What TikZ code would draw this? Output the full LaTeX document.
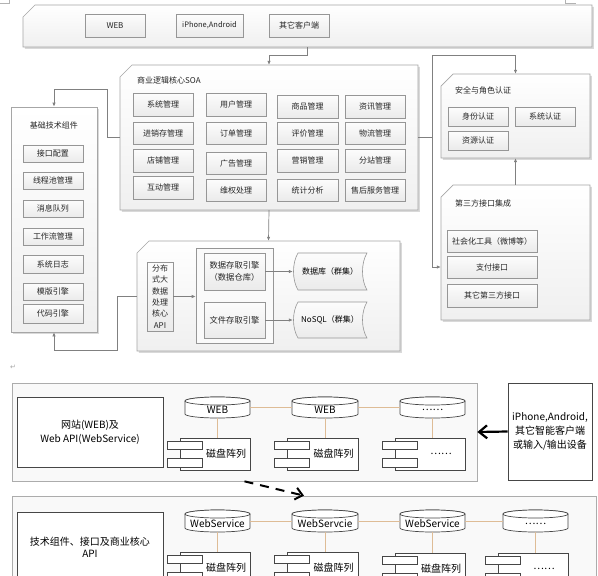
\documentclass[tikz,border=0pt]{standalone}
\usepackage{fontspec}
\setmainfont{Noto Sans CJK SC}
\newfontfamily\symf{DejaVu Sans}
\usetikzlibrary{arrows.meta}
\definecolor{lg}{RGB}{128,128,128}
\definecolor{bb}{RGB}{150,150,150}
\definecolor{tanl}{RGB}{222,188,150}
\definecolor{dk}{RGB}{70,70,70}
\tikzset{
  gbox/.style={draw=bb, line width=0.6pt, top color=gray!2, bottom color=gray!16, inner sep=0pt, align=center, font=\fontsize{8}{11}\selectfont, text=black!85},
  ibox/.style={draw=bb, line width=0.6pt, fill=gray!4, inner sep=0pt},
  contsty/.style={draw=gray!70, line width=0.7pt, top color=white, bottom color=gray!12},
  conn/.style={draw=lg, line width=0.7pt},
  arr/.style={-{Latex[length=4pt,width=3.4pt]}},
  ttl/.style={font=\fontsize{8}{10}\selectfont, inner sep=0pt, text=black!85},
  hid/.style={inner sep=0pt, draw=none},
  bigbox/.style={draw=gray!65, line width=0.7pt, fill=gray!5, inner sep=0pt},
  tbox/.style={draw=dk, line width=0.7pt, fill=white, inner sep=0pt, align=center, font=\fontsize{10}{14}\selectfont},
  cylline/.style={draw=dk, line width=0.7pt, fill=white},
  cyltext/.style={font=\fontsize{10}{12}\selectfont, inner sep=0pt},
  compbox/.style={draw=dk, line width=0.7pt, fill=white, inner sep=0pt},
  tanc/.style={draw=tanl, line width=1pt},
}
\newcommand\rbox[7]{\node[#1,minimum width={(#5)-(#3)},minimum height={(#6)-(#4)}] (#2) at ({((#3)+(#5))/2},{((#4)+(#6))/2}) {#7};}
\newcommand\chbox[6]{%
  \fill[gray!30] ({(#3)+1.8},{(#4)+13.8}) -- ({(#3)+13.8},{(#4)+1.8}) -- ({(#5)+1.8},{(#4)+1.8}) -- ({(#5)+1.8},{(#6)+1.8}) -- ({(#3)+1.8},{(#6)+1.8}) -- cycle;
  \path[#1] (#3,{(#4)+12}) -- ({(#3)+12},#4) -- (#5,#4) -- (#5,#6) -- (#3,#6) -- cycle;
  \node[hid,minimum width={(#5)-(#3)},minimum height={(#6)-(#4)}] (#2) at ({((#3)+(#5))/2},{((#4)+(#6))/2}) {};}
\newcommand\cyl[6]{%
  \pgfmathsetmacro\cw{((#4)-(#2))/2}%
  \pgfmathsetmacro\cm{((#2)+(#4))/2}%
  \pgfmathsetmacro\ct{(#3)+4}%
  \pgfmathsetmacro\cb{(#5)-4}%
  \path[cylline] (#2,\ct) -- (#2,\cb) arc[start angle=180,end angle=360,x radius=\cw pt,y radius=4pt] -- (#4,\ct) arc[start angle=0,end angle=180,x radius=\cw pt,y radius=4pt] -- cycle;
  \path[cylline] (\cm,\ct) ellipse[x radius=\cw pt,y radius=4pt];
  \node[hid,minimum width={(#4)-(#2)},minimum height={(#5)-(#3)}] (#1) at (\cm,{((#3)+(#5))/2}) {};
  \node[cyltext] at (\cm,{(\ct+(#5))/2+0.5}) {#6};}
\newcommand\comp[6]{%
  \rbox{compbox}{#1}{#2}{#3}{#4}{#5}{}
  \path[cylline] ({(#2)-13},{(#3)+3}) rectangle ({(#2)+22},{(#3)+11});
  \path[cylline] ({(#2)-13},{(#3)+20}) rectangle ({(#2)+22},{(#3)+29});
  \node[cyltext] at ({((#2)+22+(#4))/2},{((#3)+(#5))/2}) {#6};}
\newcommand\sdata[6]{%
  \path[draw=bb, line width=0.6pt, top color=gray!2, bottom color=gray!16] ({(#2)+5},#3) -- (#4,#3) .. controls ({(#4)-6},{(#3)+10}) and ({(#4)-6},{(#5)-10}) .. (#4,#5) -- ({(#2)+5},#5) .. controls ({(#2)-1},{(#5)-10}) and ({(#2)-1},{(#3)+10}) .. ({(#2)+5},#3) -- cycle;
  \node[hid,font=\fontsize{8}{10}\selectfont,minimum width={(#4)-(#2)},minimum height={(#5)-(#3)}] (#1) at ({((#2)+(#4))/2},{((#3)+(#5))/2}) {#6};}

\begin{document}
\begin{tikzpicture}[x=1pt,y=-1pt]
\useasboundingbox (0,0) rectangle (598,576);
\clip (0,0) rectangle (598,576);
\fill[white] (0,0) rectangle (598,576);
% corner marks
\draw[gray!60,line width=0.5pt] (0,3) -- (9,3) -- (9,0);
\draw[gray!60,line width=0.5pt] (565,0) -- (565,3) -- (576,3);

% ===== top clients box =====
\chbox{contsty}{top}{23}{5}{592}{47}
\rbox{gbox}{web}{85}{14}{145}{37}{WEB}
\rbox{gbox,font=\fontsize{7.5}{9}\selectfont}{iph}{176}{14}{243}{37}{iPhone,Android}
\rbox{gbox}{oth}{269}{14}{329}{37}{其它客户端}

% ===== SOA =====
\chbox{contsty}{soa}{120}{65}{418}{210}
\node[ttl,anchor=west] (soat) at (137,80) {商业逻辑核心SOA};
\rbox{gbox}{a1}{133}{93}{193}{116}{系统管理}
\rbox{gbox}{a2}{133}{122}{193}{144}{进销存管理}
\rbox{gbox}{a3}{133}{149}{193}{172}{店铺管理}
\rbox{gbox}{a4}{133}{176}{193}{199}{互动管理}
\rbox{gbox}{b1x}{206}{93}{266}{116}{用户管理}
\rbox{gbox}{b2x}{206}{122}{266}{144}{订单管理}
\rbox{gbox}{b3x}{206}{152}{266}{174}{广告管理}
\rbox{gbox}{b4x}{206}{179}{266}{201}{维权处理}
\rbox{gbox}{c1x}{277}{95}{338}{118}{商品管理}
\rbox{gbox}{c2x}{277}{122}{338}{144}{评价管理}
\rbox{gbox}{c3x}{277}{149}{338}{172}{营销管理}
\rbox{gbox}{c4x}{277}{179}{338}{201}{统计分析}
\rbox{gbox}{d1x}{345}{95}{405}{118}{资讯管理}
\rbox{gbox}{d2x}{345}{122}{405}{144}{物流管理}
\rbox{gbox}{d3x}{345}{149}{405}{172}{分站管理}
\rbox{gbox}{d4x}{345}{179}{405}{201}{售后服务管理}

% ===== left column =====
\fill[gray!30] (12.8,108.8) rectangle (98.8,333.8);
\rbox{contsty,inner sep=0pt}{lc}{11}{107}{97}{332}{}
\node[ttl] (lct) at (54,125) {基础技术组件};
\rbox{gbox}{l1}{23}{145}{83}{162}{接口配置}
\rbox{gbox}{l2}{23}{172}{83}{189}{线程池管理}
\rbox{gbox}{l3}{23}{200}{83}{217}{消息队列}
\rbox{gbox}{l4}{23}{228}{83}{245}{工作流管理}
\rbox{gbox}{l5}{23}{255}{83}{273}{系统日志}
\rbox{gbox}{l6}{23}{283}{83}{300}{模版引擎}
\rbox{gbox}{l7}{23}{304}{83}{323}{代码引擎}

% ===== security =====
\chbox{contsty}{sec}{441}{74}{590}{158}
\node[ttl,anchor=west] (sect) at (455,90) {安全与角色认证};
\rbox{gbox}{s1}{448}{107}{508}{126}{身份认证}
\rbox{gbox}{s2}{515}{107}{575}{126}{系统认证}
\rbox{gbox}{s3}{448}{131}{508}{150}{资源认证}

% ===== third party =====
\chbox{contsty}{tp}{441}{185}{590}{320}
\node[ttl,anchor=west] (tpt) at (455,203) {第三方接口集成};
\rbox{gbox}{p1}{447}{230}{537}{252}{社会化工具（微博等）}
\rbox{gbox}{p2}{447}{256}{537}{278}{支付接口}
\rbox{gbox}{p3}{447}{284}{537}{307}{其它第三方接口}

% ===== storage =====
\chbox{contsty}{st}{137}{241}{400}{351}
\rbox{gbox,font=\fontsize{8}{11.3}\selectfont}{api}{147}{262}{173}{331}{分布\\式大\\数据\\处理\\核心\\API}
\rbox{ibox}{inr}{196}{248}{273}{343}{}
\rbox{gbox,font=\fontsize{8.3}{12}\selectfont}{dse}{204}{253}{265}{290}{数据存取引擎\\（数据仓库）}
\rbox{gbox,font=\fontsize{8.3}{12}\selectfont}{fse}{204}{302}{265}{338}{文件存取引擎}
\sdata{db1}{293}{253}{367}{290}{数据库（群集）}
\sdata{db2}{293}{302}{367}{338}{NoSQL（群集）}

% ===== connectors (top diagram) =====
\draw[conn,arr] (top.south) -- ++(0,8) -| (soa.north);
\draw[conn,arr] (soa.south) -- (st.north);
\draw[conn,arr] (soa.west) -- (107,137.5) -- (107,89) -| (lc.north);
\draw[conn] (soa.east) -- (432,137.5) coordinate (rj);
\draw[conn,arr] (rj) -- (432,55) -| (sec.north);
\draw[conn,arr] (rj) -- (432,267) -- ([yshift=-14.5pt]tp.west);
\draw[conn,arr] (tp.north) -- (sec.south);
\draw[conn,arr] (st.west) -- (117,296) -- (117,350) -| (lc.south);
\draw[conn,arr] (api.east) -- (api.east -| inr.west);
\draw[conn,arr] (dse.east) -- (db1.west);
\draw[conn,arr] (fse.east) -- (db2.west);

% paragraph mark
\node[font=\symf\fontsize{7}{8}\selectfont, text=gray!70, inner sep=0pt] (pm) at (13,367) {↵};

% ===== bottom diagram: box 1 =====
\rbox{bigbox}{bx1}{12}{383}{477}{481}{}
\rbox{tbox}{t1}{17}{397}{163}{467}{网站(WEB)及\\Web API(WebService)}
\cyl{e1}{185}{397}{250}{418}{WEB}
\cyl{e2}{292}{397}{358}{418}{WEB}
\cyl{e3}{400}{397}{465}{418}{……}
\comp{k1}{180}{438}{250}{470}{磁盘阵列}
\comp{k2}{287}{438}{358}{470}{磁盘阵列}
\comp{k3}{395}{438}{465}{470}{……}
\draw[tanc] (e1.east) -- (e2.west);
\draw[tanc] (e2.east) -- (e3.west);
\draw[tanc] (e1.south) -- (e1.south |- k1.north);
\draw[tanc] (e2.south) -- (e2.south |- k2.north);
\draw[tanc] (e3.south) -- (e3.south |- k3.north);

% right device box
\rbox{tbox}{rb}{508}{383}{592}{480}{iPhone,Android,\\其它智能客户端\\或输入/输出设备}
\draw[line width=2.2pt, -{Straight Barb[length=8pt,width=13pt,line width=2.2pt]}] (rb.west) -- (bx1.east);

% ===== bottom diagram: box 2 =====
\rbox{bigbox}{bx2}{12}{496}{596}{600}{}
\draw[line width=2pt, dash pattern=on 9pt off 7pt, -{Straight Barb[length=7pt,width=12pt,line width=2pt]}] (bx1.south) -- (bx2.north);
\rbox{tbox,font=\fontsize{10}{12}\selectfont}{t2}{17}{512}{163}{582}{技术组件、接口及商业核心\\API}
\cyl{f1}{185}{510}{250}{532}{WebService}
\cyl{f2}{292}{510}{358}{532}{WebServcie}
\cyl{f3}{400}{510}{465}{532}{WebService}
\cyl{f4}{503}{510}{568}{532}{……}
\comp{m1}{180}{552}{250}{584}{磁盘阵列}
\comp{m2}{287}{552}{358}{584}{磁盘阵列}
\comp{m3}{395}{553}{465}{585}{磁盘阵列}
\comp{m4}{498}{553}{568}{585}{……}
\draw[tanc] (f1.east) -- (f2.west);
\draw[tanc] (f2.east) -- (f3.west);
\draw[tanc] (f3.east) -- (f4.west);
\draw[tanc] (f1.south) -- (f1.south |- m1.north);
\draw[tanc] (f2.south) -- (f2.south |- m2.north);
\draw[tanc] (f3.south) -- (f3.south |- m3.north);
\draw[tanc] (f4.south) -- (f4.south |- m4.north);
\end{tikzpicture}
\end{document}
